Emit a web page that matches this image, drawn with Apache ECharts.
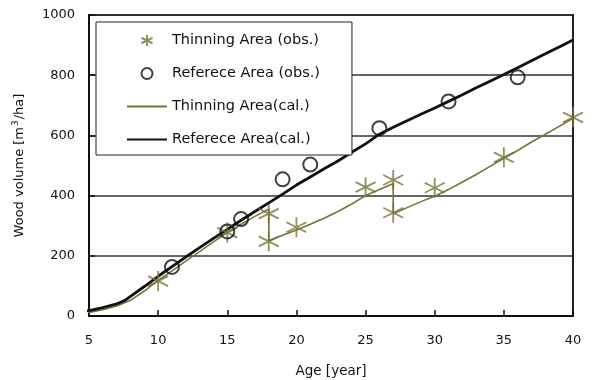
<!DOCTYPE html>
<html>
<head>
<meta charset="utf-8">
<script src="https://cdn.jsdelivr.net/npm/echarts@6/dist/echarts.min.js"></script>
<style>
  html, body { margin: 0; padding: 0; background: #fff; }
  #chart { width: 592px; height: 380px; }
</style>
</head>
<body>
<div id="chart"></div>
<script>
// observed points
const thinObsAge = [10, 15, 18, 18, 20, 25, 27, 27, 30, 35, 40];
const thinObsVol = [116, 277, 340, 248, 295, 428, 452, 343, 426, 527, 660];
const refObsAge = [11, 15, 16, 19, 21, 26, 31, 36];
const refObsVol = [163, 281, 322, 454, 503, 624, 713, 793];

// calculated curves (thinning has drops at 18 and 27)
const thinCalAge = [4.2, 5, 6, 7, 8, 9, 10, 11, 12, 13, 14, 15, 16, 17, 18,
  18, 19, 20, 21, 22, 23, 24, 25, 26, 27,
  27, 28, 29, 30, 31, 32, 33, 34, 35, 36, 37, 38, 39, 40];
const thinCalVol = [8, 12, 21, 33, 52, 83, 118, 150, 182, 214, 246, 278, 305, 331, 355,
  250, 268, 286, 305, 325, 347, 372, 400, 420, 440,
  340, 360, 380, 398, 420, 445, 470, 497, 524, 550, 578, 604, 630, 657];
const refCalAge = [4.2, 5, 6, 7, 7.6, 8, 9, 10, 11, 12, 13, 14, 15, 16, 17, 18, 19, 20,
  21, 22, 23, 24, 25, 26, 27, 28, 29, 30, 31, 32, 33, 34, 35, 36, 37, 38, 39, 40];
const refCalVol = [13, 18, 28, 40, 52, 65, 98, 132, 164, 196, 227, 258, 288, 318, 347, 376, 405, 435,
  462, 489, 515, 544, 572, 604, 627, 649, 670, 691, 713, 735, 758, 780, 802, 825, 848, 871, 894, 917];

const xTicks = { min: 5, max: 40, interval: 5 };
const yTicks = { min: 0, max: 1000, interval: 200 };

const zip = (a, b) => a.map((v, i) => [v, b[i]]);

const olive = "#74743a";
const font = "DejaVu Sans";
const star = "path://M10,0 L10,20 M0,5 L20,15 M0,15 L20,5";
// hide the circle that line series put in the middle of the legend icon
const noDot = { color: "rgba(0,0,0,0)", borderColor: "rgba(0,0,0,0)", borderWidth: 0 };

const chart = echarts.init(document.getElementById("chart"));
chart.setOption({
  animation: false,
  textStyle: { fontFamily: font, color: "#111" },
  grid: {
    left: 89, right: 19, top: 15, bottom: 64,
    outerBoundsMode: "none",
    show: true,
    borderColor: "#222",
    borderWidth: 2,
  },
  legend: {
    left: 96,
    top: 22,
    orient: "vertical",
    backgroundColor: "#fff",
    borderColor: "#222",
    borderWidth: 1,
    padding: [11, 32, 8, 30],
    itemWidth: 40,
    itemHeight: 11,
    itemGap: 18,
    selectedMode: false,
    textStyle: { fontFamily: font, fontSize: 14.5, color: "#111" },
    data: [
      { name: "Thinning Area (obs.)" },
      { name: "Referece Area (obs.)" },
      { name: "Thinning Area(cal.)", itemStyle: noDot },
      { name: "Referece Area(cal.)", itemStyle: noDot },
    ],
  },
  xAxis: {
    type: "value",
    min: xTicks.min,
    max: xTicks.max,
    interval: xTicks.interval,
    name: "Age [year]",
    nameLocation: "middle",
    nameGap: 48,
    nameTextStyle: { fontFamily: font, fontSize: 13.5, color: "#111" },
    axisLine: { lineStyle: { color: "#111", width: 2 } },
    axisTick: { inside: true, length: 6, lineStyle: { color: "#111", width: 1.5 } },
    axisLabel: { margin: 18, fontSize: 13, color: "#111", fontFamily: font },
    splitLine: { show: false },
  },
  yAxis: {
    type: "value",
    min: yTicks.min,
    max: yTicks.max,
    interval: yTicks.interval,
    name: "Wood volume [m{sup|3}/ha]",
    nameLocation: "middle",
    nameGap: 61,
    nameTextStyle: {
      fontFamily: font, fontSize: 13, color: "#111",
      rich: { sup: { fontSize: 9, verticalAlign: "top", padding: [0, 1, 8, 1], fontFamily: font } },
    },
    axisLine: { lineStyle: { color: "#111", width: 2 } },
    axisTick: { inside: true, length: 6, lineStyle: { color: "#111", width: 1.5 } },
    axisLabel: { margin: 14, fontSize: 13, color: "#111", fontFamily: font, formatter: (v) => String(v) },
    splitLine: { show: true, lineStyle: { color: "#333", width: 1.5 } },
  },
  series: [
    {
      name: "Thinning Area (obs.)",
      type: "scatter",
      symbol: star,
      symbolSize: 20,
      data: zip(thinObsAge, thinObsVol),
      itemStyle: { color: "transparent", borderColor: olive, borderWidth: 1.8 },
      z: 3,
    },
    {
      name: "Referece Area (obs.)",
      type: "scatter",
      symbol: "circle",
      symbolSize: 14,
      data: zip(refObsAge, refObsVol),
      itemStyle: { color: "transparent", borderColor: "#111", borderWidth: 2 },
      z: 3,
    },
    {
      name: "Thinning Area(cal.)",
      type: "line",
      symbol: "none",
      clip: false,
      data: zip(thinCalAge, thinCalVol),
      lineStyle: { color: olive, width: 1.6 },
      itemStyle: { color: olive },
      z: 2,
    },
    {
      name: "Referece Area(cal.)",
      type: "line",
      symbol: "none",
      clip: false,
      data: zip(refCalAge, refCalVol),
      lineStyle: { color: "#111", width: 2.8 },
      itemStyle: { color: "#111" },
      z: 2,
    },
  ],
});
</script>
</body>
</html>
